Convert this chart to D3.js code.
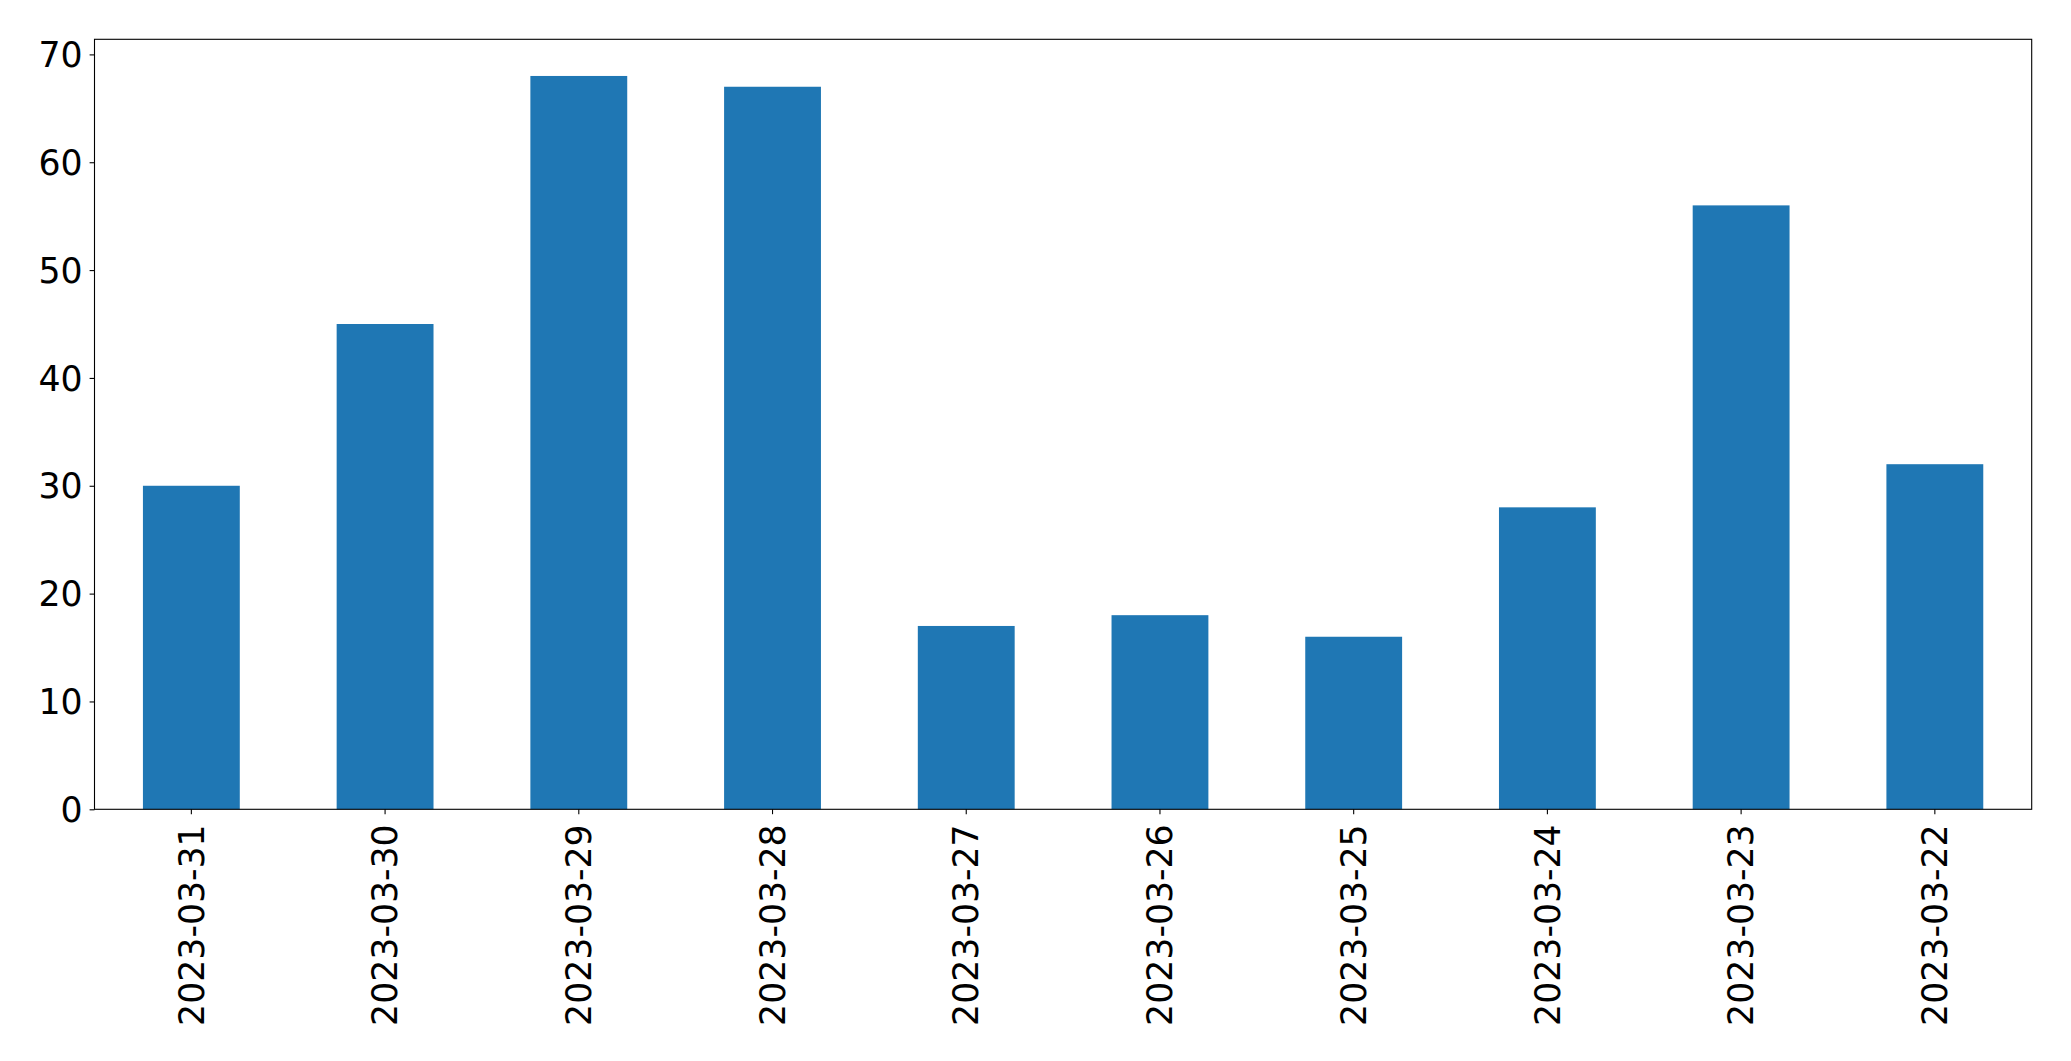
<!DOCTYPE html>
<meta charset="utf-8" />
<title>Bar chart</title>
<style>
  body { margin: 0; background: #fff; }
  .tick text { font-family: "DejaVu Sans", sans-serif; font-size: 34.7px; fill: #000; }
  .tick line { stroke: #000; stroke-width: 1.1px; }
  .domain { display: none; }
</style>
<body>
  <script src="https://d3js.org/d3.v7.min.js"></script>
  <script>
    var dates = ["2023-03-31", "2023-03-30", "2023-03-29", "2023-03-28", "2023-03-27",
      "2023-03-26", "2023-03-25", "2023-03-24", "2023-03-23", "2023-03-22"];
    var counts = [30, 45, 68, 67, 17, 18, 16, 28, 56, 32];
    var yTicks = [0, 10, 20, 30, 40, 50, 60, 70];

    var width = 2071, height = 1061;
    var margin = { top: 39.3, right: 39.3, bottom: 251.7, left: 94.5 };
    var w = width - margin.left - margin.right,
      h = height - margin.top - margin.bottom;

    var svg = d3.select("body").append("svg")
      .attr("width", width)
      .attr("height", height);

    var g = svg.append("g")
      .attr("transform", "translate(" + margin.left + "," + margin.top + ")");

    // pandas style: xlim (-0.5, n-0.5), bar width 0.5
    var x = d3.scaleBand().domain(dates).range([0, w]).paddingInner(0.5).paddingOuter(0.25);
    var y = d3.scaleLinear().domain([0, d3.max(counts) * 1.05]).range([h, 0]);

    g.selectAll(".bar")
      .data(counts)
      .enter().append("rect")
      .attr("class", "bar")
      .attr("x", function (d, i) { return x(dates[i]); })
      .attr("y", function (d) { return y(d); })
      .attr("width", x.bandwidth())
      .attr("height", function (d) { return h - y(d); })
      .attr("fill", "#1f77b4");

    var yAxis = g.append("g")
      .call(d3.axisLeft(y).tickValues(yTicks).tickSize(4.9).tickPadding(7));
    yAxis.selectAll(".tick text").attr("dy", "0.35em");

    var xAxis = g.append("g")
      .attr("transform", "translate(0," + h + ")")
      .call(d3.axisBottom(x).tickSize(4.9));
    xAxis.selectAll(".tick text")
      .attr("transform", "rotate(-90)")
      .attr("text-anchor", "end")
      .attr("x", -15)
      .attr("y", 0)
      .attr("dy", "0.35em");

    // frame
    g.append("rect")
      .attr("width", w)
      .attr("height", h)
      .attr("fill", "none")
      .attr("stroke", "#000")
      .attr("stroke-width", 1.1);
  </script>
</body>
